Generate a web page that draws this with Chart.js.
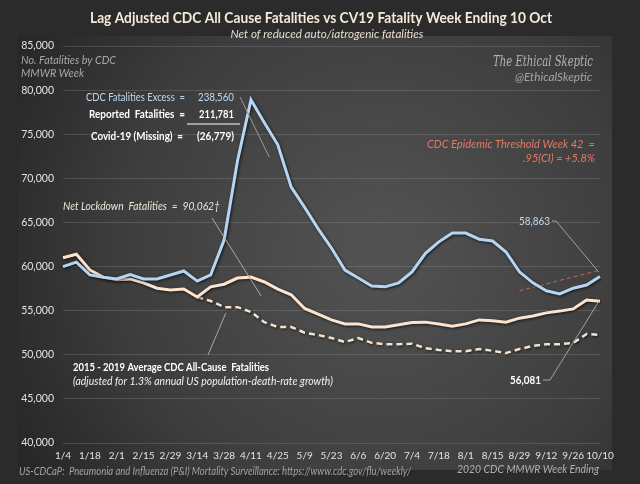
<!DOCTYPE html>
<html>
<head>
<meta charset="utf-8">
<script src="https://cdn.jsdelivr.net/npm/chart.js@4"></script>
<style>
  html, body { margin: 0; padding: 0; background: #2a2a2a; }
  #wrap { width: 640px; height: 484px; }
</style>
</head>
<body>
<div id="wrap"><canvas id="myChart" width="640" height="484"></canvas></div>
<script>
// week ending dates, 2020
var weeks = ['1/4','1/11','1/18','1/25','2/1','2/8','2/15','2/22','2/29','3/7','3/14','3/21','3/28','4/4','4/11','4/18','4/25',
  '5/2','5/9','5/16','5/23','5/30','6/6','6/13','6/20','6/27','7/4','7/11','7/18','7/25','8/1','8/8','8/15','8/22','8/29',
  '9/5','9/12','9/19','9/26','10/3','10/10'];

// CDC all cause fatalities 2020 (blue)
var cdc2020 = [60000,60500,59050,58800,58600,59100,58600,58600,59050,59500,58350,59050,63000,72000,78900,76300,73800,69000,66700,64300,
  62100,59600,58700,57800,57700,58150,59400,61500,62800,63800,63800,63100,62900,61650,59400,58150,57250,56900,57550,57900,58863];

// lag adjusted, net of reduced auto/iatrogenic (solid peach)
var lagAdjusted = [61000,61400,59600,58800,58500,58600,58150,57550,57350,57450,56550,57700,58000,58700,58800,58250,57450,56800,55250,54600,
  53950,53500,53500,53150,53150,53400,53650,53700,53500,53250,53500,53950,53850,53700,54150,54400,54750,54950,55200,56200,56081];

// 2015-2019 average (dashed)
var avg1519 = [null,null,null,null,null,null,null,null,null,null,56550,56100,55400,55400,54850,53700,53150,53150,52500,52250,
  51900,51450,51900,51350,51200,51200,51250,50750,50550,50400,50400,50650,50450,50200,50650,51000,51200,51200,51350,52350,52250];

// epidemic threshold trend (two ends)
var threshold = [null,null,null,null,null,null,null,null,null,null,null,null,null,null,null,null,null,null,null,null,
  null,null,null,null,null,null,null,null,null,null,null,null,null,null,57250,null,null,null,null,null,59600];

var yTicks = [40000,45000,50000,55000,60000,65000,70000,75000,80000,85000];

function txt(ctx, s, x, y, w, font, color, align) {
  ctx.save();
  ctx.font = font;
  ctx.fillStyle = color;
  ctx.textBaseline = 'middle';
  var m = ctx.measureText(s).width;
  var k = w ? w / m : 1;
  var left = x;
  if (align == 'center') left = x - (w || m) / 2;
  if (align == 'right') left = x - (w || m);
  ctx.translate(left, y);
  ctx.scale(k, 1);
  ctx.textAlign = 'left';
  ctx.fillText(s, 0, 0);
  ctx.restore();
}

function seg(ctx, pts, color, width) {
  ctx.save();
  ctx.strokeStyle = color;
  ctx.lineWidth = width || 1;
  ctx.beginPath();
  ctx.moveTo(pts[0][0], pts[0][1]);
  for (var i = 1; i < pts.length; i++) ctx.lineTo(pts[i][0], pts[i][1]);
  ctx.stroke();
  ctx.restore();
}

var bgPlugin = {
  id: 'bg',
  beforeDraw: function (chart) {
    var ctx = chart.ctx;
    ctx.save();
    ctx.fillStyle = '#2b2b2b';
    ctx.fillRect(0, 0, 640, 484);
    var g = ctx.createRadialGradient(380, 250, 20, 380, 250, 420);
    g.addColorStop(0, '#525252');
    g.addColorStop(0.6, '#3d3d3d');
    g.addColorStop(1, '#262626');
    ctx.fillStyle = g;
    ctx.fillRect(18, 36, 594, 434);
    ctx.restore();
  }
};

var shadowPlugin = {
  id: 'shadow',
  beforeDatasetDraw: function (chart, args) {
    var ctx = chart.ctx;
    ctx.save();
    if (args.index < 3) {
      ctx.shadowColor = 'rgba(0,0,0,0.7)';
      ctx.shadowBlur = 3;
      ctx.shadowOffsetX = 1;
      ctx.shadowOffsetY = 1;
    }
  },
  afterDatasetDraw: function (chart) {
    chart.ctx.restore();
  }
};

var textPlugin = {
  id: 'texts',
  afterDraw: function (chart) {
    var ctx = chart.ctx;
    var xs = chart.scales.x, ys = chart.scales.y;
    function P(i, v) { return [xs.getPixelForValue(i), ys.getPixelForValue(v)]; }
    var cream = '#f3ead8';

    txt(ctx, 'Lag Adjusted CDC All Cause Fatalities vs CV19 Fatality Week Ending 10 Oct', 321, 18, 462, 'bold 15px Lato', cream, 'center');
    txt(ctx, 'Net of reduced auto/iatrogenic fatalities', 327, 34, 193, 'italic 12px Lato', '#e6ddd0', 'center');

    txt(ctx, 'No. Fatalities by CDC', 21, 60, 95, 'italic 12px Lato', '#a8a8a8');
    txt(ctx, 'MMWR Week', 21, 73, 63, 'italic 12px Lato', '#a8a8a8');

    txt(ctx, 'The Ethical Skeptic', 593, 62, 100, 'italic 14px "DejaVu Serif"', '#b4b4b4', 'right');
    txt(ctx, '@EthicalSkeptic', 592, 77, 77, 'italic 12px Lato', '#a4a4a4', 'right');

    var lb = '#bcd7f0';
    txt(ctx, 'CDC Fatalities Excess  =', 86, 97, 99, '12px Lato', lb);
    txt(ctx, '238,560', 198, 97, 36, '12px Lato', lb);
    txt(ctx, 'Reported  Fatalities  =', 89, 114, 96, 'bold 12px Lato', '#ffffff');
    txt(ctx, '211,781', 199, 114, 35, 'bold 12px Lato', '#ffffff');
    seg(ctx, [[187, 124], [240, 124]], '#a0a0a0', 2);
    txt(ctx, 'Covid-19 (Missing)  =', 91, 136, 92, 'bold 12px Lato', '#ffffff');
    txt(ctx, '(26,779)', 197, 136, 37, 'bold 12px Lato', '#ffffff');
    seg(ctx, [[240, 97], P(15.36, 72420)], '#9a9a9a', 1);

    var red = '#e27a66';
    txt(ctx, 'CDC Epidemic Threshold Week 42  =', 595, 144, 168, 'italic 12px Lato', red, 'right');
    txt(ctx, '.95(CI) = +5.8%', 595, 158, 72, 'italic 12px Lato', red, 'right');

    txt(ctx, 'Net Lockdown  Fatalities  =  90,062\u2020', 63, 206, 157, 'italic 12px Lato', '#ece4d6');
    seg(ctx, [[212, 218], P(14.76, 56660)], '#b0a898', 1);

    txt(ctx, '58,863', 519, 221, 31, '12px Lato', lb);
    seg(ctx, [[552, 221], [556, 221], P(39.9, 59400)], '#a0a0a0', 1);

    txt(ctx, '56,081', 510, 380, 31, 'bold 12px Lato', '#ffffff');
    seg(ctx, [[543, 380], [550, 380], P(39.93, 56100)], '#a0a0a0', 1);

    txt(ctx, '2015 - 2019 Average CDC All-Cause  Fatalities', 73, 367, 196, 'bold 12px Lato', '#ffffff');
    txt(ctx, '(adjusted for 1.3% annual US population-death-rate growth)', 73, 381, 260, 'italic 12px Lato', '#f0f0f0');
    seg(ctx, [[208, 355], P(12.13, 54740)], '#b0a898', 1);

    txt(ctx, 'US-CDCaP:  Pneumonia and Influenza (P&I) Mortality Surveillance: https://www.cdc.gov/flu/weekly/', 19, 471, 392, 'italic 11px Lato', '#a4a4a4');
    txt(ctx, '2020 CDC MMWR Week Ending', 599, 469, 142, 'italic 12px Lato', '#b0b0b0', 'right');
  }
};

var ctx = document.getElementById('myChart').getContext('2d');
var myChart = new Chart(ctx, {
  type: 'line',
  data: {
    labels: weeks,
    datasets: [{
      label: 'CDC 2020',
      data: cdc2020,
      borderColor: '#b6d5f2',
      borderWidth: 3,
      pointRadius: 0,
      tension: 0
    }, {
      label: 'Lag adjusted',
      data: lagAdjusted,
      borderColor: '#fde4cf',
      borderWidth: 3,
      pointRadius: 0,
      tension: 0
    }, {
      label: '2015-2019 average',
      data: avg1519,
      borderColor: '#f4e2d0',
      borderWidth: 2.5,
      borderDash: [6, 4],
      pointRadius: 0,
      tension: 0
    }, {
      label: 'Threshold',
      data: threshold,
      borderColor: 'rgba(214,104,90,0.9)',
      borderWidth: 1,
      borderDash: [4, 3],
      pointRadius: 0,
      spanGaps: true
    }]
  },
  options: {
    responsive: false,
    animation: false,
    layout: { padding: { top: 46, right: 40, left: 0, bottom: 0 } },
    plugins: { legend: { display: false }, tooltip: { enabled: false } },
    scales: {
      x: {
        offset: false,
        grid: { display: false, drawTicks: false },
        border: { display: false },
        afterFit: function (s) { s.height = 41; },
        ticks: {
          autoSkip: false,
          maxRotation: 0,
          padding: 7,
          color: '#e2e2e2',
          font: { family: 'Lato', size: 10 },
          callback: function (v, i) { return i % 2 == 0 ? weeks[i] : ''; }
        }
      },
      y: {
        min: 40000,
        max: 85000,
        afterFit: function (s) { s.width = 63; },
        afterBuildTicks: function (s) { s.ticks = yTicks.map(function (v) { return { value: v }; }); },
        grid: { color: 'rgba(255,255,255,0.13)', drawTicks: false },
        border: { display: false },
        ticks: {
          padding: 9,
          color: '#e2e2e2',
          font: { family: 'Lato', size: 10.5 },
          callback: function (v) { return v.toLocaleString('en-US'); }
        }
      }
    }
  },
  plugins: [bgPlugin, shadowPlugin, textPlugin]
});
</script>
</body>
</html>
